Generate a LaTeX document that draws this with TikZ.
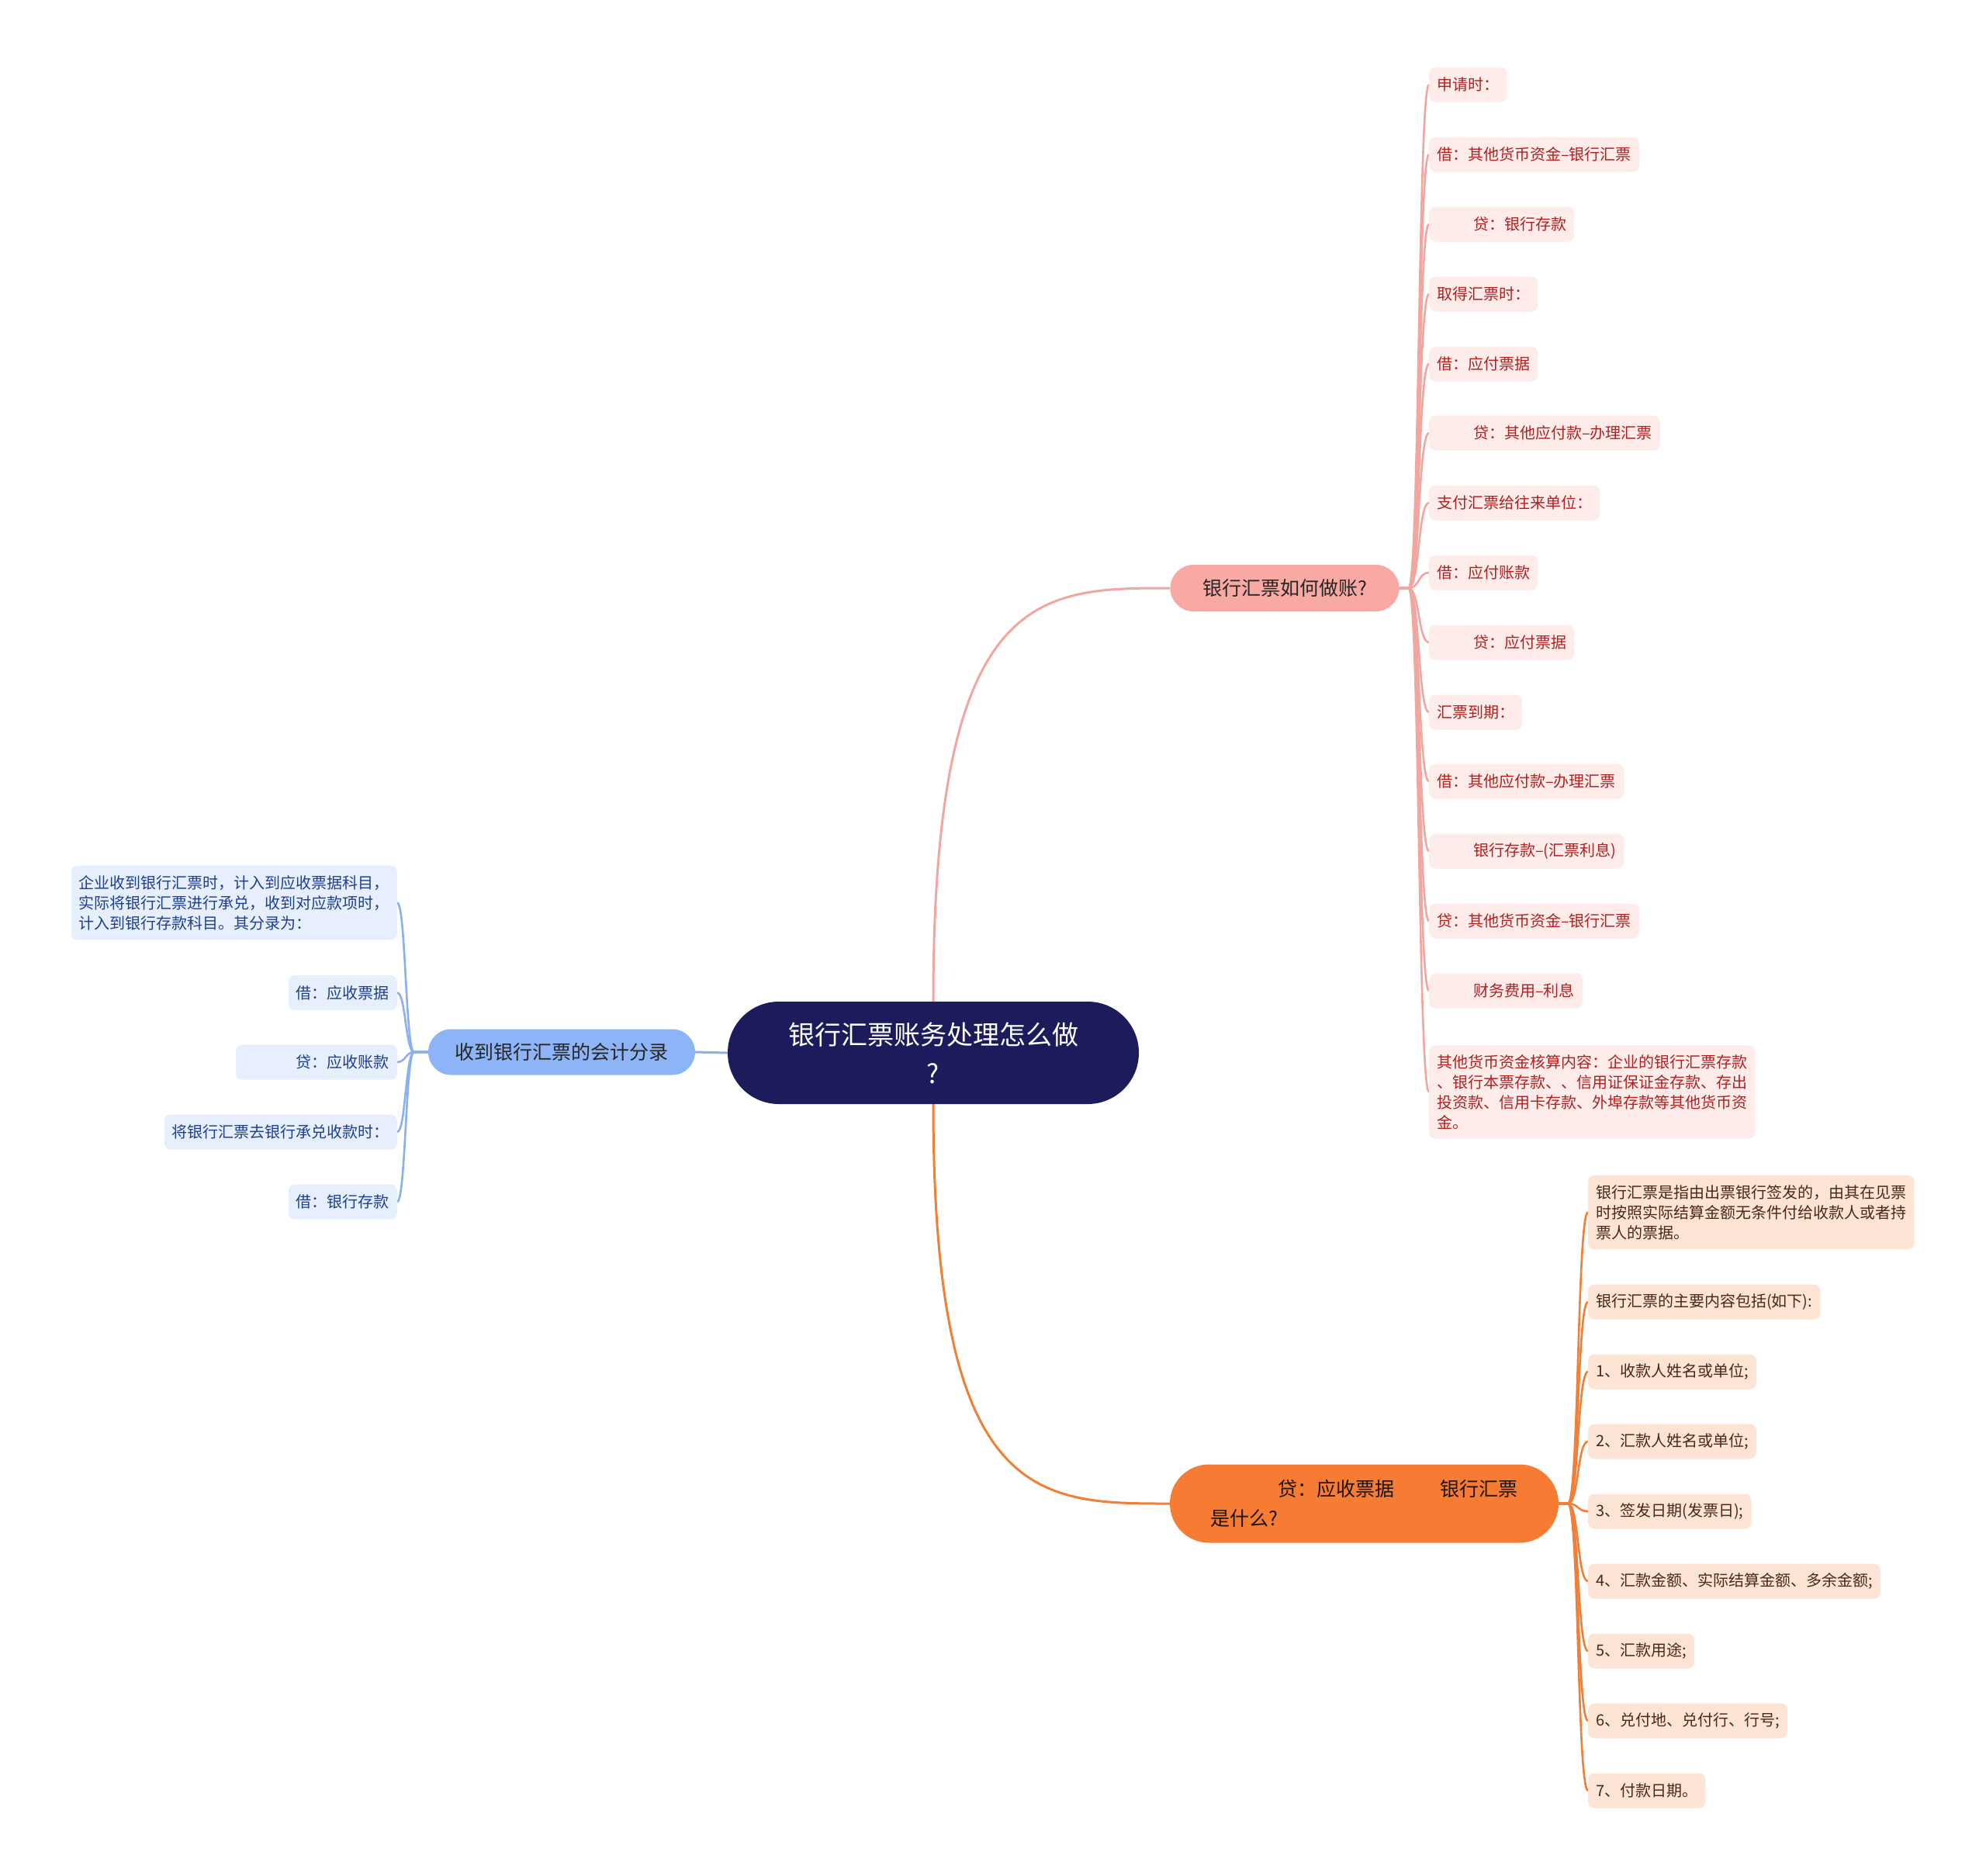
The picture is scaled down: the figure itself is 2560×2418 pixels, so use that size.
\documentclass[tikz,border=0pt]{standalone}
\usepackage{fontspec}
\setmainfont{Noto Sans CJK SC}
\usetikzlibrary{calc,backgrounds}
\definecolor{navy}{HTML}{1C1B5C}
\definecolor{pinkfill}{HTML}{F9A9A3}
\definecolor{pinkln}{HTML}{F2A6A0}
\definecolor{pinkleaf}{HTML}{FDECEA}
\definecolor{pinktext}{HTML}{B0201F}
\definecolor{orfill}{HTML}{F67C33}
\definecolor{orln}{HTML}{F07F38}
\definecolor{orleaf}{HTML}{FDE4D5}
\definecolor{ortext}{HTML}{4A2812}
\definecolor{blfill}{HTML}{8CB4F6}
\definecolor{blln}{HTML}{8AB0F0}
\definecolor{blleaf}{HTML}{E7EFFD}
\definecolor{bltext}{HTML}{1D3F8C}
\begin{document}
\begin{tikzpicture}[x=1pt,y=-1pt,
  rootbox/.style={fill=navy, text=white, rounded corners=65.9pt, minimum width=530pt, minimum height=132pt, inner sep=0pt, align=center, font=\fontsize{34}{50}\selectfont},
  pinkmain/.style={fill=pinkfill, text=black!85, rounded corners=29.9pt, minimum width=295pt, minimum height=60pt, inner sep=0pt, font=\fontsize{25}{32}\selectfont},
  ormain/.style={fill=orfill, text=black!85!brown, rounded corners=50.4pt, minimum width=501pt, minimum height=101pt, inner sep=0pt, align=left, font=\fontsize{25}{38}\selectfont},
  blmain/.style={fill=blfill, text=black!85, rounded corners=29.4pt, minimum width=344pt, minimum height=59pt, inner sep=0pt, font=\fontsize{25}{32}\selectfont},
  leafbase/.style={rounded corners=8pt, inner xsep=10pt, inner ysep=0pt, minimum height=45pt, align=left, font=\fontsize{20}{26}\selectfont},
  pleaf/.style={leafbase, fill=pinkleaf, text=pinktext, anchor=west},
  oleaf/.style={leafbase, fill=orleaf, text=ortext, anchor=west},
  bleaf/.style={leafbase, fill=blleaf, text=bltext, anchor=east},
  rootconn/.style={line width=3pt},
  leafconn/.style={line width=2.6pt},
]
\useasboundingbox (0,0) rectangle (2560,2418);

% root and main branches
\node[rootbox] (root) at (1203,1357) {银行汇票账务处理怎么做\\?};
\node[pinkmain] (pk) at (1656,758) {银行汇票如何做账?};
\node[ormain] (ob) at (1758.5,1938) {\hspace*{87pt}贷：应收票据\hspace*{59pt}银行汇票\\是什么?};
\node[blmain] (bl) at (724,1356) {收到银行汇票的会计分录};

% pink leaves
\node[pleaf] (p1) at (1842,109) {申请时：};
\node[pleaf] (p2) at (1842,199) {借：其他货币资金–银行汇票};
\node[pleaf] (p3) at (1842,289) {\hspace*{47pt}贷：银行存款};
\node[pleaf] (p4) at (1842,379) {取得汇票时：};
\node[pleaf] (p5) at (1842,469) {借：应付票据};
\node[pleaf] (p6) at (1842,558) {\hspace*{47pt}贷：其他应付款–办理汇票};
\node[pleaf] (p7) at (1842,648) {支付汇票给往来单位：};
\node[pleaf] (p8) at (1842,738) {借：应付账款};
\node[pleaf] (p9) at (1842,828) {\hspace*{47pt}贷：应付票据};
\node[pleaf] (p10) at (1842,918) {汇票到期：};
\node[pleaf] (p11) at (1842,1007) {借：其他应付款–办理汇票};
\node[pleaf] (p12) at (1842,1097) {\hspace*{47pt}银行存款–(汇票利息)};
\node[pleaf] (p13) at (1842,1187) {贷：其他货币资金–银行汇票};
\node[pleaf] (p14) at (1842,1277) {\hspace*{47pt}财务费用–利息};
\node[pleaf, inner ysep=12pt, minimum height=0pt] (p15) at (1842,1407.5) {其他货币资金核算内容：企业的银行汇票存款\\、银行本票存款、、信用证保证金存款、存出\\投资款、信用卡存款、外埠存款等其他货币资\\金。};

% orange leaves
\node[oleaf, inner ysep=12.5pt, minimum height=0pt] (o1) at (2047,1562.5) {银行汇票是指由出票银行签发的，由其在见票\\时按照实际结算金额无条件付给收款人或者持\\票人的票据。};
\node[oleaf] (o2) at (2047,1678) {银行汇票的主要内容包括(如下):};
\node[oleaf] (o3) at (2047,1768) {1、收款人姓名或单位;};
\node[oleaf] (o4) at (2047,1858) {2、汇款人姓名或单位;};
\node[oleaf] (o5) at (2047,1948) {3、签发日期(发票日);};
\node[oleaf] (o6) at (2047,2038) {4、汇款金额、实际结算金额、多余金额;};
\node[oleaf] (o7) at (2047,2128) {5、汇款用途;};
\node[oleaf] (o8) at (2047,2218) {6、兑付地、兑付行、行号;};
\node[oleaf] (o9) at (2047,2308) {7、付款日期。};

% blue leaves
\node[bleaf, inner ysep=12.5pt, minimum height=0pt] (b1) at (512,1163.5) {企业收到银行汇票时，计入到应收票据科目，\\实际将银行汇票进行承兑，收到对应款项时，\\计入到银行存款科目。其分录为：};
\node[bleaf] (b2) at (512,1279.5) {借：应收票据};
\node[bleaf] (b3) at (512,1369) {\hspace*{68pt}贷：应收账款};
\node[bleaf] (b4) at (512,1459) {将银行汇票去银行承兑收款时：};
\node[bleaf] (b5) at (512,1549) {借：银行存款};

\begin{scope}[on background layer]
  \fill[white] (0,0) rectangle (2560,2418);
  \draw[rootconn, pinkln] (root.north) .. controls (root.north |- pk.west) and ($(pk.west)+(-170,0)$) .. (pk.west);
  \draw[rootconn, orln] (root.south) .. controls (root.south |- ob.west) and ($(ob.west)+(-170,0)$) .. (ob.west);
  \draw[rootconn, blln] (root.west) -- (bl.east);
  \foreach \i in {1,...,15}
    \draw[leafconn, pinkln] (pk.east) -- ++(12,0) .. controls +(14,0) and +(-14,0) .. (p\i.west);
  \foreach \i in {1,...,9}
    \draw[leafconn, orln] (ob.east) -- ++(12,0) .. controls +(14,0) and +(-14,0) .. (o\i.west);
  \foreach \i in {1,...,5}
    \draw[leafconn, blln] (bl.west) -- ++(-18,0) .. controls +(-11,0) and +(11,0) .. (b\i.east);
\end{scope}
\end{tikzpicture}
\end{document}
